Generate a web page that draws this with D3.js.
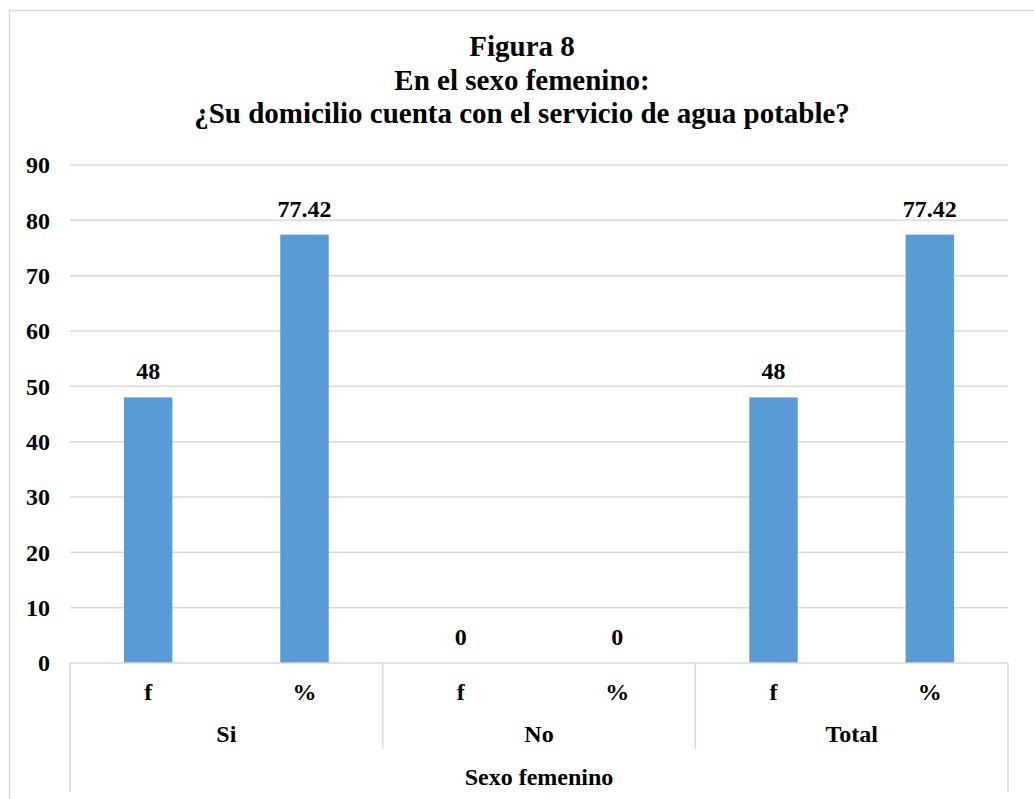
<!DOCTYPE html>
<html>
<head>
<meta charset="utf-8">
<style>
  body { margin: 0; background: #fff; }
  svg { font-family: "Liberation Serif", "Times New Roman", serif; font-weight: bold; }
</style>
</head>
<body>
<svg width="1034" height="799"></svg>
<script src="https://cdn.jsdelivr.net/npm/d3@7"></script>
<script>

// chart data
var groups = ["Si", "No", "Total"],
    measures = ["f", "%"],
    valuesF = [48, 0, 48],
    valuesPct = [77.42, 0, 77.42],
    yTicks = [0, 10, 20, 30, 40, 50, 60, 70, 80, 90],
    titleLines = ["Figura 8", "En el sexo femenino:", "¿Su domicilio cuenta con el servicio de agua potable?"],
    outerLabel = "Sexo femenino";

var svg = d3.select("svg"),
    plotLeft = 70, plotRight = 1008, plotTop = 165, plotBottom = 663;

var rows = [];
groups.forEach(function(g, i) {
  rows.push({ group: g, measure: "f", value: valuesF[i] });
  rows.push({ group: g, measure: "%", value: valuesPct[i] });
});

var x0 = d3.scaleBand().domain(groups).range([plotLeft, plotRight]);
var x1 = d3.scaleBand().domain(measures).range([0, x0.bandwidth()]).paddingInner(0.69).paddingOuter(0.345);
var xSub = d3.scaleBand().domain(measures).range([0, x0.bandwidth()]);
var y = d3.scaleLinear().domain([0, 90]).range([plotBottom, plotTop]);

var grid = "#d9d9d9";

// outer frame
svg.append("rect")
    .attr("x", 9.5).attr("y", 10.5)
    .attr("width", 1040).attr("height", 800)
    .attr("fill", "none").attr("stroke", grid).attr("stroke-width", 1.5);

// title
svg.append("g").selectAll("text")
    .data(titleLines)
  .enter().append("text")
    .attr("x", 522)
    .attr("y", function(d, i) { return 56 + i * 33.5; })
    .attr("text-anchor", "middle")
    .attr("font-size", 29)
    .text(function(d) { return d; });

// gridlines
svg.append("g").selectAll("line")
    .data(yTicks.filter(function(d) { return d > 0; }))
  .enter().append("line")
    .attr("x1", plotLeft).attr("x2", plotRight)
    .attr("y1", function(d) { return y(d); })
    .attr("y2", function(d) { return y(d); })
    .attr("stroke", grid).attr("stroke-width", 1.5);

// y axis labels
var yAxis = svg.append("g")
    .attr("transform", "translate(" + (plotLeft - 20) + ",0)")
    .call(d3.axisLeft(y).tickValues(yTicks).tickSize(0).tickPadding(0));
yAxis.select(".domain").remove();
yAxis.selectAll("text")
    .attr("font-family", "Liberation Serif, serif")
    .attr("font-weight", "bold")
    .attr("font-size", 24)
    .attr("fill", "#000");

// bars
var bars = svg.append("g").selectAll("g")
    .data(rows)
  .enter().append("g")
    .attr("transform", function(d) { return "translate(" + (x0(d.group) + x1(d.measure)) + ",0)"; });

bars.append("rect")
    .attr("y", function(d) { return y(d.value); })
    .attr("width", x1.bandwidth())
    .attr("height", function(d) { return y(0) - y(d.value); })
    .attr("fill", "#5b9bd5");

bars.append("text")
    .attr("x", x1.bandwidth() / 2)
    .attr("y", function(d) { return y(d.value) - 18; })
    .attr("text-anchor", "middle")
    .attr("font-size", 24)
    .text(function(d) { return d.value; });

// category axis
var axis = svg.append("g").attr("stroke", grid).attr("stroke-width", 1.5);
axis.append("line").attr("x1", plotLeft).attr("x2", plotRight).attr("y1", plotBottom).attr("y2", plotBottom);
axis.append("line").attr("x1", plotLeft).attr("x2", plotLeft).attr("y1", plotBottom).attr("y2", 792);
axis.append("line").attr("x1", plotRight).attr("x2", plotRight).attr("y1", plotBottom).attr("y2", 792);
axis.selectAll(".div")
    .data(groups.slice(1))
  .enter().append("line")
    .attr("class", "div")
    .attr("x1", function(d) { return x0(d); })
    .attr("x2", function(d) { return x0(d); })
    .attr("y1", plotBottom).attr("y2", 749);

svg.append("g").selectAll("text")
    .data(rows)
  .enter().append("text")
    .attr("x", function(d) { return x0(d.group) + xSub(d.measure) + xSub.bandwidth() / 2; })
    .attr("y", 700)
    .attr("text-anchor", "middle")
    .attr("font-size", 24)
    .text(function(d) { return d.measure; });

svg.append("g").selectAll("text")
    .data(groups)
  .enter().append("text")
    .attr("x", function(d) { return x0(d) + x0.bandwidth() / 2; })
    .attr("y", 742)
    .attr("text-anchor", "middle")
    .attr("font-size", 24)
    .text(function(d) { return d; });

svg.append("text")
    .attr("x", (plotLeft + plotRight) / 2)
    .attr("y", 785)
    .attr("text-anchor", "middle")
    .attr("font-size", 24)
    .text(outerLabel);

</script>
</body>
</html>
